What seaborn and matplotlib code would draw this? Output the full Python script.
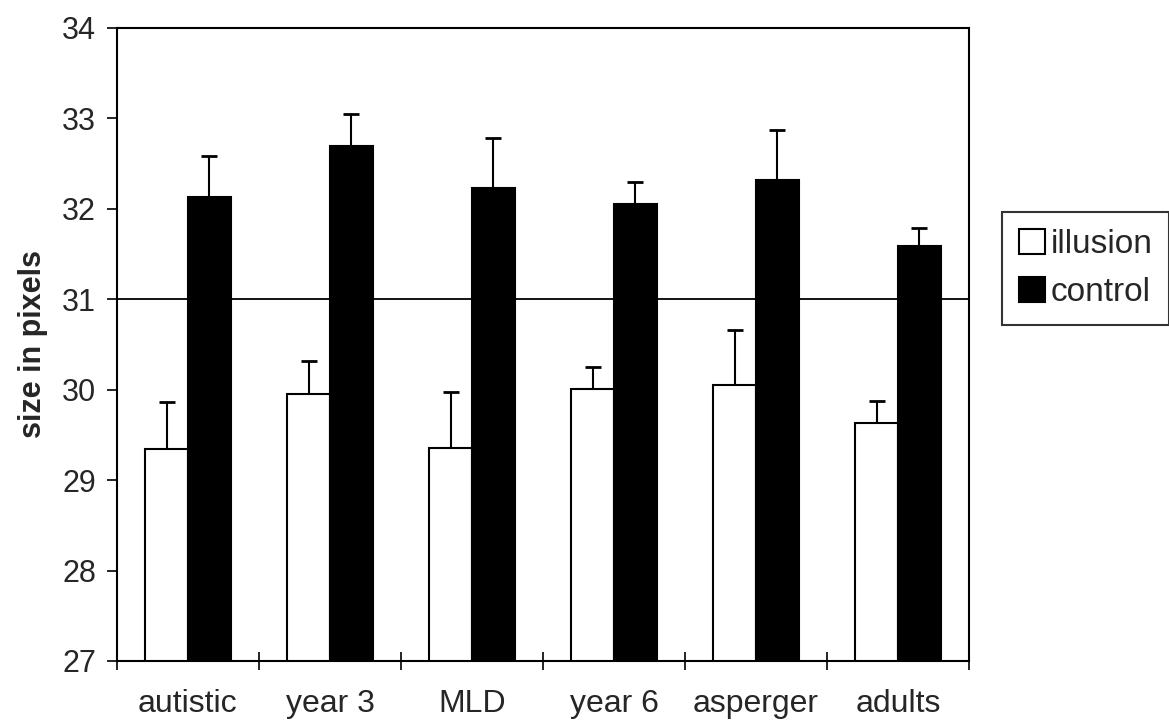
import numpy as np
import pandas as pd
import matplotlib
matplotlib.use("Agg")
import matplotlib.pyplot as plt
import seaborn as sns
from matplotlib.patches import Patch

# data
groups = ['autistic', 'year 3', 'MLD', 'year 6', 'asperger', 'adults']
conditions = ['illusion', 'control']
illusion_mean = [29.34, 29.95, 29.35, 30.01, 30.05, 29.63]
illusion_err = [0.52, 0.37, 0.62, 0.24, 0.61, 0.24]
control_mean = [32.13, 32.69, 32.23, 32.05, 32.32, 31.59]
control_err = [0.45, 0.36, 0.55, 0.25, 0.55, 0.20]
y_ticks = [27, 28, 29, 30, 31, 32, 33, 34]
ref_level = 31

sns.set_style("white")
plt.rcParams['font.family'] = ['Liberation Sans', 'DejaVu Sans']

df = pd.DataFrame({
    'group': groups * 2,
    'condition': ['illusion'] * len(groups) + ['control'] * len(groups),
    'size': illusion_mean + control_mean,
})
errs = {'illusion': illusion_err, 'control': control_err}

fig = plt.figure(figsize=(11.69, 7.22), dpi=100)
ax = fig.add_axes([0.100, 0.0845, 0.729, 0.877])

ax.axhline(ref_level, color='black', lw=1.3, zorder=0.5)

sns.barplot(data=df, x='group', y='size', hue='condition', order=groups,
            hue_order=conditions, palette=['white', 'black'], width=0.6,
            edgecolor='black', linewidth=1.5, errorbar=None, ax=ax,
            legend=False, zorder=2)

# upward-only error bars on each bar
for cond, cont in zip(conditions, ax.containers):
    xs = [b.get_x() + b.get_width() / 2 for b in cont]
    hs = [b.get_height() for b in cont]
    e = errs[cond]
    ax.errorbar(xs, hs, yerr=[np.zeros(len(e)), e], fmt='none',
                ecolor='black', elinewidth=1.5, capsize=5.5, capthick=2,
                zorder=1.5)

ax.set_ylim(y_ticks[0], y_ticks[-1])
ax.set_xlim(-0.5, len(groups) - 0.5)
ax.set_yticks(y_ticks)
ax.set_xticks(range(len(groups)))
ax.set_xticklabels(groups)
ax.set_xticks(np.arange(-0.5, len(groups), 1.0), minor=True)
ax.tick_params(axis='x', which='major', length=0, pad=20, labelsize=23,
               bottom=True)
ax.tick_params(axis='x', which='minor', length=13, width=1.2,
               direction='inout', color='black', bottom=True)
ax.tick_params(axis='y', length=7, width=1.2, direction='out', pad=8,
               labelsize=22, color='black', left=True)
ax.set_xlabel('')
ax.set_ylabel('size in pixels', fontsize=22, fontweight='bold', labelpad=10)

for s in ax.spines.values():
    s.set_visible(True)
    s.set_color('black')
    s.set_linewidth(1.5)

handles = [Patch(facecolor='white', edgecolor='black', linewidth=1.5),
           Patch(facecolor='black', edgecolor='black', linewidth=1.5)]
leg = ax.legend(handles, conditions, loc='upper left',
                bbox_to_anchor=(1002 / 1169, 1 - 212 / 722),
                bbox_transform=fig.transFigure, fontsize=24, frameon=True,
                fancybox=False, handlelength=0.8, handleheight=0.8,
                handletextpad=0.15, borderpad=0.5, labelspacing=0.5,
                borderaxespad=0)
leg.get_frame().set_edgecolor('black')
leg.get_frame().set_linewidth(1.5)

fig.savefig('out.png', dpi=100, facecolor='white')
